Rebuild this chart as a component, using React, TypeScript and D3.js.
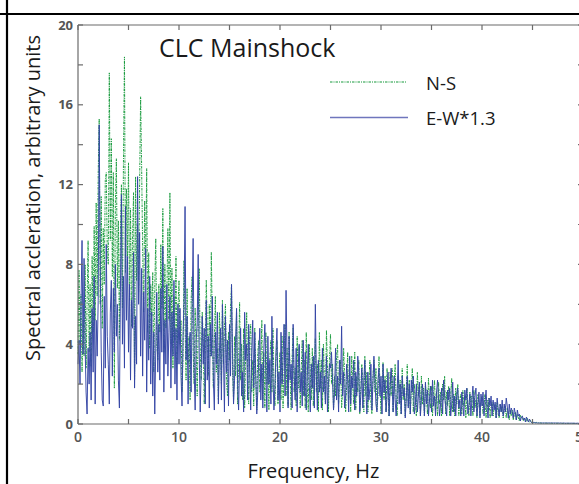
import React from "react";
import * as d3 from "d3";

// Frequency sampling step (Hz)
const DF = 0.1;

// N-S component, spectral acceleration (arbitrary units), sampled every 0.1 Hz from 0 Hz
const NS: number[] = [
  3.5, 7.7, 4.0, 6.5, 2.6, 5.2, 3.4, 8.0, 2.8, 6.1,
  9.2, 3.6, 7.0, 2.9, 8.4, 4.6, 9.9, 5.2, 11.1, 6.4,
  12.5, 15.3, 6.0, 11.4, 4.8, 9.8, 7.0, 12.2, 12.6, 8.6,
  8.0, 17.6, 9.2, 14.3, 7.4, 12.6, 1.8, 11.0, 13.3, 6.8,
  10.2, 4.2, 9.6, 12.0, 5.8, 13.1, 18.4, 7.6, 11.8, 8.4,
  13.1, 6.2, 10.8, 4.9, 9.4, 11.6, 2.2, 12.4, 7.2, 10.0,
  6.6, 12.0, 16.4, 12.9, 8.8, 5.6, 11.2, 7.8, 12.8, 4.6,
  8.6, 3.8, 7.0, 5.4, 7.6, 2.6, 6.8, 9.3, 4.0, 3.2,
  7.0, 4.6, 9.0, 5.8, 10.8, 3.6, 8.0, 4.8, 6.6, 9.8,
  5.2, 11.6, 4.0, 7.8, 2.8, 6.4, 4.2, 8.4, 3.0, 5.8,
  7.2, 4.0, 5.2, 1.6, 3.4, 8.2, 5.0, 2.2, 6.8, 3.0,
  4.4, 1.2, 6.2, 7.4, 3.6, 2.0, 5.8, 4.0, 1.4, 5.0,
  7.8, 3.8, 2.2, 5.6, 4.2, 1.0, 3.6, 7.2, 4.8, 2.4,
  6.0, 3.4, 8.6, 5.0, 1.8, 4.2, 6.4, 2.6, 3.8, 1.2,
  5.6, 4.0, 2.0, 6.2, 3.0, 4.8, 6.0, 2.2, 1.4, 4.6,
  3.2, 5.8, 7.0, 2.8, 1.2, 4.4, 2.4, 5.6, 1.0, 3.0,
  6.1, 2.2, 4.0, 1.2, 4.8, 0.8, 3.4, 5.6, 2.6, 1.0,
  4.4, 5.0, 1.6, 3.2, 0.9, 4.8, 2.4, 0.7, 3.6, 4.2,
  1.6, 2.8, 5.2, 1.2, 3.6, 0.8, 4.6, 2.0, 3.0, 0.7,
  3.4, 4.2, 1.6, 4.8, 2.0, 0.9, 3.2, 4.2, 1.0, 2.6,
  3.6, 1.2, 4.4, 0.8, 2.6, 5.0, 1.4, 3.8, 0.9, 4.6,
  2.4, 0.7, 3.4, 4.8, 1.6, 2.8, 0.9, 4.4, 1.8, 3.9,
  0.8, 2.6, 4.2, 1.4, 3.2, 0.8, 4.6, 2.0, 0.6, 4.0,
  2.6, 1.2, 3.8, 0.9, 2.4, 4.3, 1.6, 3.0, 0.6, 4.6,
  1.8, 3.2, 0.7, 4.0, 2.2, 1.0, 4.7, 2.8, 0.6, 3.2,
  4.5, 2.0, 3.0, 0.7, 2.4, 1.4, 3.4, 4.0, 1.0, 2.2,
  3.2, 0.8, 1.6, 3.8, 2.4, 0.6, 2.0, 3.6, 1.2, 2.6,
  0.6, 3.4, 2.0, 1.0, 3.6, 0.7, 2.4, 1.6, 3.2, 0.5,
  1.8, 3.0, 2.2, 0.6, 3.4, 1.4, 2.6, 0.6, 2.0, 3.2,
  1.0, 0.5, 2.4, 3.2, 1.6, 2.8, 0.7, 1.4, 3.4, 2.0,
  0.5, 1.8, 3.1, 1.2, 2.4, 0.6, 2.8, 1.6, 0.4, 2.6,
  1.4, 2.8, 0.6, 2.0, 3.0, 1.2, 0.4, 2.4, 1.6, 2.2,
  0.5, 2.8, 1.2, 2.0, 0.4, 1.6, 3.0, 0.9, 2.2, 0.5,
  1.6, 2.8, 0.6, 2.0, 1.2, 0.4, 2.6, 1.4, 2.0, 0.5,
  2.4, 1.0, 1.8, 0.4, 2.0, 1.4, 0.5, 2.3, 1.2, 0.8,
  1.9, 0.4, 1.4, 2.2, 0.7, 1.6, 0.4, 2.1, 1.0, 1.6,
  0.4, 2.0, 1.2, 2.4, 0.5, 1.6, 0.9, 1.9, 0.4, 1.4,
  2.3, 0.6, 1.5, 0.4, 1.8, 1.0, 2.0, 0.4, 1.2, 1.5,
  0.5, 1.7, 0.9, 1.4, 0.3, 1.8, 1.0, 0.4, 1.6, 1.1,
  1.4, 0.4, 1.7, 0.8, 1.2, 0.3, 1.5, 1.0, 0.4, 1.2,
  1.4, 0.5, 1.0, 1.5, 0.3, 1.2, 0.7, 1.3, 0.3, 0.9,
  1.1, 0.4, 0.8, 1.0, 0.3, 1.1, 0.5, 0.3, 1.0, 0.6,
  0.9, 0.3, 0.7, 0.9, 0.3, 0.8, 0.5, 0.2, 0.7, 0.4,
  0.7, 0.2, 0.5, 0.6, 0.2, 0.5, 0.3, 0.15, 0.45, 0.3,
  0.35, 0.15, 0.3, 0.2, 0.12, 0.3, 0.12, 0.1, 0.18, 0.08,
  0.12, 0.06, 0.1, 0.05, 0.08, 0.05, 0.06, 0.05, 0.05, 0.04,
  0.04, 0.04, 0.05, 0.04, 0.04, 0.03, 0.04, 0.04, 0.03, 0.04,
  0.03, 0.04, 0.03, 0.03, 0.04, 0.03, 0.03, 0.03, 0.04, 0.03,
  0.03, 0.03, 0.03, 0.02, 0.03, 0.03, 0.03, 0.02, 0.03, 0.03,
  0.02, 0.03, 0.02, 0.03, 0.02, 0.02, 0.03, 0.02, 0.02, 0.02,
  0.02,
];

// E-W component multiplied by 1.3, same sampling
const EW: number[] = [
  3.0, 4.2, 2.0, 6.0, 9.2, 3.5, 8.3, 4.0, 1.6, 0.5,
  3.8, 2.0, 4.6, 1.2, 5.8, 2.6, 7.4, 1.0, 5.2, 3.4,
  6.2, 15.0, 8.0, 3.6, 1.2, 0.9, 6.4, 2.8, 9.0, 4.4,
  3.0, 1.0, 5.6, 7.2, 2.4, 6.8, 3.6, 8.0, 4.4, 6.0,
  2.2, 0.8, 6.6, 11.5, 4.0, 7.4, 2.8, 10.9, 5.2, 8.4,
  3.6, 7.0, 2.2, 6.2, 4.8, 8.6, 1.8, 5.4, 3.0, 12.4,
  6.0, 9.6, 3.4, 7.8, 2.4, 6.6, 4.2, 8.8, 1.6, 5.8,
  3.2, 7.4, 2.0, 5.6, 1.4, 4.6, 0.5, 3.8, 6.6, 2.6,
  5.0, 2.2, 6.8, 3.6, 8.9, 1.6, 5.2, 3.0, 7.0, 2.4,
  4.6, 6.4, 1.8, 5.6, 3.4, 7.2, 2.0, 4.8, 1.2, 6.0,
  3.0, 5.8, 2.4, 0.9, 4.4, 6.2, 10.9, 3.2, 5.4, 1.0,
  3.8, 4.6, 1.6, 6.0, 9.3, 2.6, 0.7, 4.2, 5.0, 8.5,
  3.6, 0.6, 2.8, 5.4, 3.0, 4.8, 1.0, 6.2, 2.2, 4.4,
  0.8, 5.0, 3.4, 6.4, 2.2, 0.7, 4.6, 3.0, 5.6, 1.0,
  3.6, 4.8, 1.2, 6.0, 3.4, 0.6, 5.4, 2.6, 4.2, 0.9,
  5.0, 2.4, 7.0, 3.6, 1.0, 2.2, 4.2, 5.8, 2.0, 0.7,
  3.0, 4.8, 1.4, 2.6, 0.6, 5.6, 3.2, 4.0, 1.2, 5.0,
  2.6, 0.7, 3.6, 5.2, 1.8, 4.6, 2.4, 0.5, 1.6, 3.4,
  4.8, 1.2, 3.0, 0.8, 3.8, 5.0, 2.6, 0.6, 4.4, 2.0,
  3.2, 1.0, 5.4, 2.4, 0.7, 1.8, 3.6, 4.8, 1.2, 2.6,
  0.6, 4.6, 2.0, 3.2, 5.0, 1.4, 6.7, 3.2, 0.8, 4.4,
  2.2, 3.0, 0.8, 5.0, 2.4, 1.2, 3.8, 0.6, 2.8, 4.0,
  1.6, 2.6, 0.9, 4.2, 1.4, 3.6, 0.7, 2.4, 4.0, 2.0,
  0.6, 3.0, 1.8, 3.4, 0.8, 6.0, 2.4, 0.7, 3.2, 1.6,
  2.6, 0.8, 3.8, 1.6, 2.4, 1.0, 3.4, 0.6, 2.0, 3.0,
  2.8, 3.6, 2.2, 0.7, 1.6, 3.8, 1.2, 2.4, 0.6, 3.2,
  2.0, 4.9, 1.4, 2.6, 0.8, 1.4, 3.0, 2.2, 0.6, 3.4,
  1.0, 2.4, 1.8, 3.2, 0.7, 2.6, 1.4, 3.4, 2.6, 0.6,
  1.4, 2.8, 0.8, 2.2, 3.2, 1.8, 0.5, 2.6, 1.2, 1.8,
  3.0, 0.7, 2.0, 3.4, 2.2, 1.0, 0.6, 2.2, 2.8, 1.4,
  2.4, 0.5, 3.0, 1.6, 2.2, 0.6, 1.4, 2.6, 0.4, 1.8,
  2.8, 2.0, 0.6, 2.4, 1.2, 0.4, 1.6, 3.2, 1.0, 2.0,
  0.5, 2.4, 1.4, 1.8, 0.3, 1.2, 2.4, 0.8, 2.0, 0.5,
  2.2, 1.6, 2.4, 0.5, 1.0, 2.0, 0.6, 1.4, 2.1, 0.4,
  1.2, 2.0, 1.4, 0.4, 2.1, 1.0, 1.7, 0.4, 1.2, 1.9,
  0.6, 2.2, 0.9, 1.4, 0.4, 1.6, 2.2, 1.2, 0.4, 1.0,
  1.8, 0.5, 2.2, 1.4, 0.9, 0.4, 1.7, 1.2, 1.8, 0.4,
  1.0, 2.1, 0.6, 1.4, 0.4, 1.5, 1.8, 0.8, 1.2, 0.4,
  1.6, 1.0, 0.4, 1.7, 1.2, 1.8, 0.5, 0.9, 1.5, 0.4,
  1.2, 1.9, 0.6, 1.4, 1.8, 0.4, 1.0, 1.6, 0.3, 1.5,
  0.9, 1.6, 0.4, 1.1, 1.7, 0.8, 0.3, 1.3, 0.9, 1.4,
  0.4, 1.2, 0.7, 1.1, 0.3, 1.3, 0.8, 0.4, 1.0, 0.6,
  1.2, 0.4, 1.0, 0.6, 1.3, 0.9, 0.3, 1.0, 0.5, 0.8,
  0.6, 0.3, 0.8, 0.5, 0.2, 0.7, 0.4, 0.5, 0.15, 0.35,
  0.4, 0.2, 0.3, 0.1, 0.35, 0.2, 0.1, 0.25, 0.12, 0.08,
  0.1, 0.08, 0.07, 0.06, 0.06, 0.05, 0.05, 0.05, 0.05, 0.05,
  0.05, 0.05, 0.05, 0.05, 0.05, 0.05, 0.05, 0.05, 0.05, 0.05,
  0.05, 0.05, 0.05, 0.05, 0.04, 0.05, 0.05, 0.04, 0.05, 0.04,
  0.04, 0.05, 0.04, 0.04, 0.04, 0.04, 0.04, 0.04, 0.04, 0.04,
  0.04, 0.04, 0.04, 0.03, 0.04, 0.04, 0.03, 0.04, 0.03, 0.03,
  0.03,
];

const X_TICKS_MAJOR = [0, 10, 20, 30, 40, 50];
const X_TICKS_MINOR = [0, 5, 10, 15, 20, 25, 30, 35, 40, 45, 50];
const Y_TICKS_MAJOR = [0, 4, 8, 12, 16, 20];
const Y_TICKS_MINOR = [0, 2, 4, 6, 8, 10, 12, 14, 16, 18, 20];

const TITLE = "CLC Mainshock";
const SERIES_LABELS = ["N-S", "E-W*1.3"];
const X_LABEL = "Frequency, Hz";
const Y_LABEL = "Spectral accleration, arbitrary units";

export default function App() {
  const W = 579;
  const H = 484;
  const left = 78, right = 583, top = 25, bottom = 424;
  const x = d3.scaleLinear().domain([0, 50]).range([left, right]);
  const y = d3.scaleLinear().domain([0, 20]).range([bottom, top]);
  const line = d3
    .line<number>()
    .x((_, i) => x(i * DF))
    .y((d) => y(d));

  const font = "'Open Sans', 'DejaVu Sans', sans-serif";
  const axisColor = "#6b6b6b";
  const green = "#179a3c";
  const blue = "#3444a4";
  const tick = 5;

  return (
    <div style={{ position: "fixed", left: 0, top: 0, width: W, height: H, background: "#fff" }}>
      <svg width={W} height={H} style={{ display: "block" }} fontFamily={font}>
        <rect x={0} y={0} width={W} height={H} fill="#fff" />
        {/* outer frame lines */}
        <line x1={0} x2={W} y1={14} y2={14} stroke="#000" strokeWidth={2.2} />
        <line x1={7} x2={7} y1={0} y2={H} stroke="#000" strokeWidth={2.2} />

        {/* data */}
        <path d={line(NS) || ""} fill="none" stroke={green} strokeWidth={0.95} strokeDasharray="2.5,1,1,1" />
        <path d={line(EW) || ""} fill="none" stroke={blue} strokeWidth={0.95} strokeLinejoin="round" />

        {/* axes box */}
        <g stroke={axisColor} strokeWidth={1.2} fill="none">
          <line x1={left} x2={right} y1={bottom} y2={bottom} />
          <line x1={left} x2={right} y1={top} y2={top} />
          <line x1={left} x2={left} y1={top} y2={bottom} />
          <line x1={right} x2={right} y1={top} y2={bottom} />
          {X_TICKS_MINOR.map((t) => (
            <g key={"xt" + t}>
              <line x1={x(t)} x2={x(t)} y1={bottom} y2={bottom - tick} />
              <line x1={x(t)} x2={x(t)} y1={top} y2={top + tick} />
            </g>
          ))}
          {Y_TICKS_MINOR.map((t) => (
            <g key={"yt" + t}>
              <line x1={left} x2={left + tick} y1={y(t)} y2={y(t)} />
              <line x1={right} x2={right - tick} y1={y(t)} y2={y(t)} />
            </g>
          ))}
        </g>

        {/* tick labels */}
        {Y_TICKS_MAJOR.map((t) => (
          <text key={"yl" + t} x={left - 5} y={y(t) + 4.5} textAnchor="end" fontSize={13} fontWeight="bold" fill="#555">
            {t}
          </text>
        ))}
        {X_TICKS_MAJOR.map((t) => (
          <text key={"xl" + t} x={x(t)} y={442} textAnchor="middle" fontSize={14} fontWeight={600} fill="#555">
            {t}
          </text>
        ))}

        {/* title */}
        <text x={159} y={57} fontSize={25} fill="#1a1a1a">{TITLE}</text>

        {/* legend */}
        <line x1={330} x2={407} y1={82} y2={82} stroke={green} strokeWidth={1.1} strokeDasharray="2.5,1,1,1" />
        <text x={426} y={90} fontSize={18.5} fill="#1a1a1a">{SERIES_LABELS[0]}</text>
        <line x1={330} x2={408} y1={117.5} y2={117.5} stroke="#6f76bd" strokeWidth={1.3} />
        <text x={426} y={125} fontSize={18.5} fill="#1a1a1a">{SERIES_LABELS[1]}</text>

        {/* axis labels */}
        <text x={313.5} y={478} textAnchor="middle" fontSize={20} fill="#1a1a1a">{X_LABEL}</text>
        <text transform="translate(40,198) rotate(-90)" textAnchor="middle" fontSize={20} fill="#1a1a1a">{Y_LABEL}</text>
      </svg>
    </div>
  );
}
